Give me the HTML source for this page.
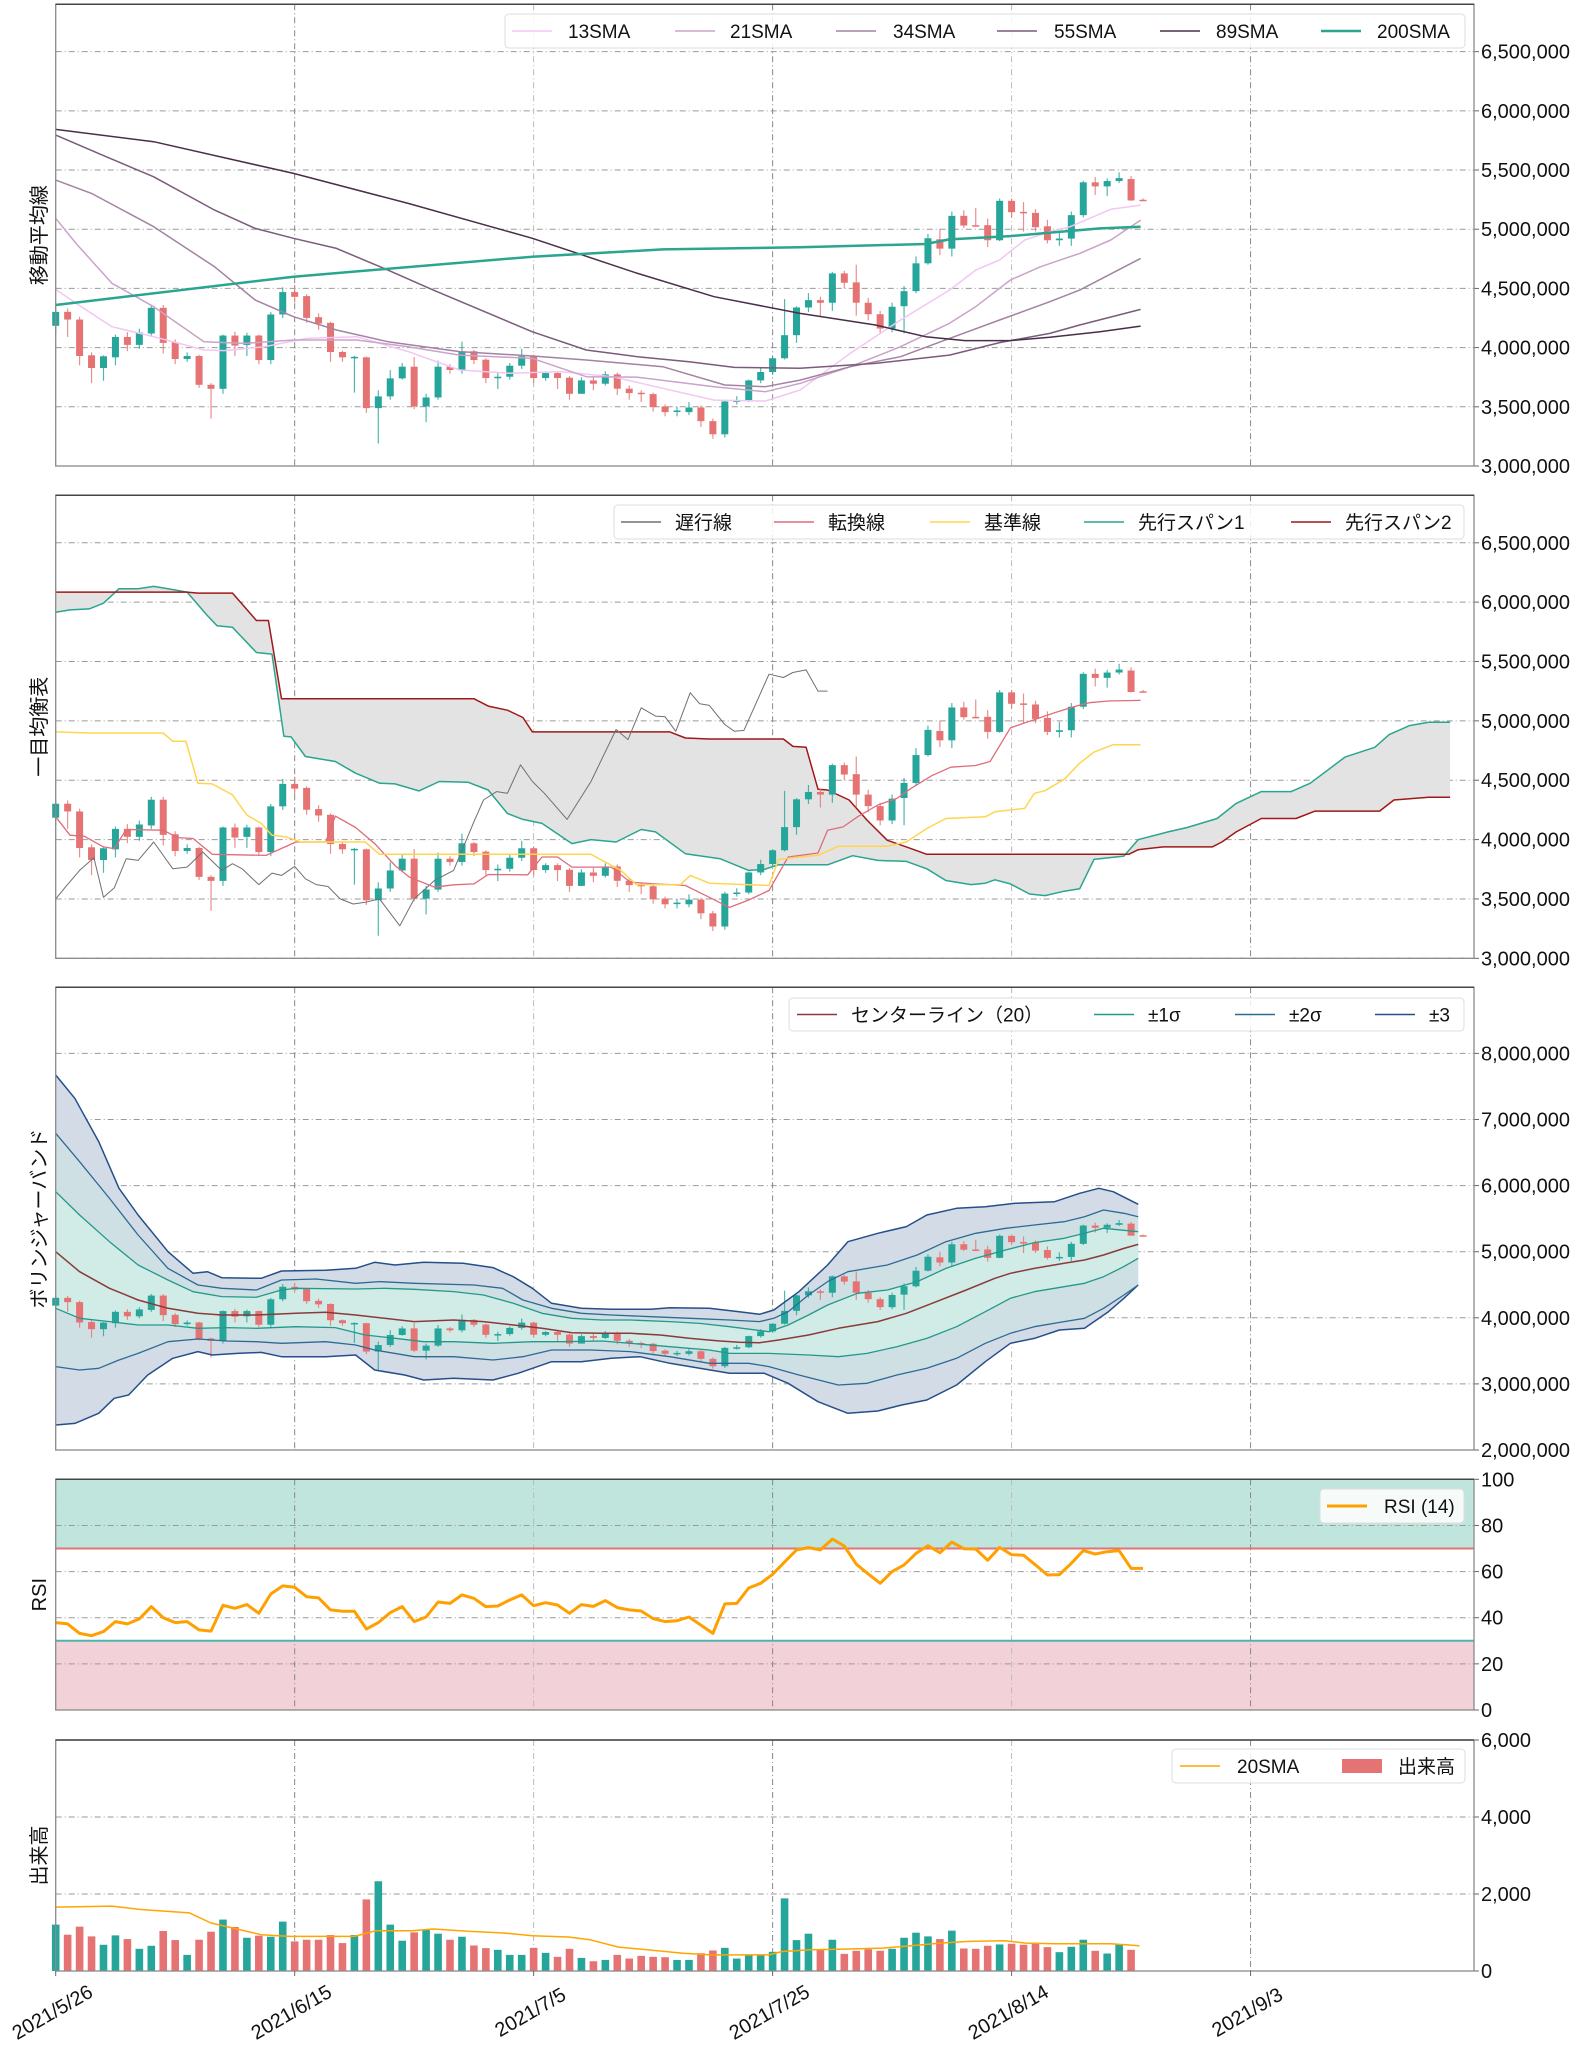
<!DOCTYPE html>
<html><head><meta charset="utf-8"><style>
body{margin:0;background:#fff}
svg{display:block;font-family:"Liberation Sans","Noto Sans CJK JP",sans-serif}
</style></head><body>
<svg id="c" width="1585" height="2048" xmlns="http://www.w3.org/2000/svg"></svg>
<script>
const dateLabels=["2021/5/26","2021/6/15","2021/7/5","2021/7/25","2021/8/14","2021/9/3"];
const openP=[4184,4302,4237,3935,3828,3918,4090,4023,4119,4336,4045,3904,3929,3686,3652,4102,4023,4102,3895,4280,4469,4435,4257,4209,3963,3918,3918,3489,3588,3740,3839,3503,3579,3839,3811,3969,3898,3743,3754,3847,3927,3743,3785,3746,3610,3723,3695,3774,3653,3619,3607,3503,3463,3455,3494,3379,3268,3545,3554,3723,3794,3910,4105,4339,4401,4379,4627,4551,4379,4282,4161,4350,4477,4712,4915,4836,5113,5034,5034,4907,5240,5147,5138,5025,4907,4921,5119,5396,5362,5407,5424,5249];
const closeP=[4302,4237,3929,3828,3927,4090,4023,4127,4336,4040,3904,3929,3686,3652,4102,4017,4102,3895,4280,4469,4429,4251,4203,3963,3918,3922,3489,3588,3740,3839,3503,3579,3839,3811,3969,3895,3743,3754,3847,3927,3743,3785,3743,3610,3723,3695,3774,3653,3616,3607,3497,3455,3469,3494,3379,3268,3545,3554,3723,3794,3910,4105,4339,4401,4379,4627,4548,4379,4282,4161,4345,4477,4712,4924,4836,5113,5031,5031,4907,5240,5144,5136,5017,4907,4921,5119,5396,5362,5407,5432,5243,5243];
const highP=[4330,4330,4260,3960,3935,4110,4130,4160,4360,4360,4070,3960,3940,3700,4110,4135,4125,4110,4300,4510,4530,4450,4290,4220,3975,3930,3925,3640,3810,3870,3920,3610,3890,3860,4050,3980,3910,3790,3870,3990,3940,3800,3800,3760,3750,3760,3800,3790,3680,3640,3620,3520,3500,3540,3510,3400,3560,3590,3730,3830,3920,4410,4350,4460,4430,4640,4650,4700,4420,4310,4380,4520,4770,4960,5000,5150,5160,5180,5090,5260,5260,5230,5170,5080,4990,5150,5410,5440,5430,5480,5450,5260];
const lowP=[4120,4090,3850,3700,3720,3850,3970,3990,4090,3950,3860,3880,3660,3400,3610,3930,3930,3860,3860,4250,4380,4210,4150,3880,3880,3620,3450,3190,3560,3730,3480,3370,3560,3780,3780,3860,3700,3650,3730,3820,3700,3720,3650,3560,3610,3640,3680,3600,3560,3540,3460,3420,3420,3430,3330,3230,3240,3520,3540,3700,3770,3900,4040,4300,4270,4310,4500,4270,4230,4120,4130,4120,4460,4700,4780,4770,5010,5020,4850,4900,5100,4980,4980,4880,4860,4860,5100,5290,5280,5390,5240,5240];
// moving averages [day, value]
const sma13=[[0,4492],[1.7,4374],[4.7,4177],[8.2,4092],[12.4,3980],[14.1,3975],[17.5,4008],[21,4078],[25.2,4092],[29.5,3966],[33.8,3811],[38,3783],[42.3,3797],[46.6,3754],[50.8,3656],[55.1,3557],[59.4,3549],[62.3,3642],[66.5,3952],[70.7,4233],[74.8,4486],[77,4655],[79,4740],[81.1,4909],[83.2,4979],[84.9,5021],[88.3,5168],[90.8,5204]];
const sma21=[[0,5092],[1.7,4880],[4.7,4543],[8.2,4346],[12.4,4050],[15.8,4036],[19.9,4064],[25.2,4064],[29.5,4008],[33.8,3937],[39.9,3909],[44.4,3754],[48.7,3750],[55.1,3670],[59.4,3628],[62.3,3698],[66.5,3839],[70.7,4008],[74.8,4205],[77,4346],[79.9,4571],[82.4,4683],[85.7,4796],[88.3,4909],[90.8,5077]];
const sma34=[[0,5415],[3,5303],[8.2,5021],[13.3,4683],[16.7,4402],[19.9,4261],[23.5,4149],[27.8,4050],[33.8,3966],[39.9,3929],[44.4,3895],[50.8,3839],[56,3684],[59.4,3670],[62.3,3726],[66.5,3839],[70.7,3923],[74.8,4078],[79,4233],[83.2,4388],[85.7,4486],[90.8,4754]];
const sma55=[[0,5795],[3.9,5626],[8.2,5443],[13.3,5162],[16.7,5007],[19.9,4923],[23.5,4838],[27.8,4655],[31.6,4486],[35.9,4303],[39.9,4134],[44.4,3980],[48.7,3923],[53,3881],[56.8,3833],[62.3,3825],[68.6,3867],[74.8,3937],[79,4042],[83.2,4120],[85.7,4191],[90.8,4323]];
const sma89=[[0,5843],[8.2,5739],[19.9,5472],[29.5,5218],[39.9,4923],[48.7,4627],[55.1,4430],[62.3,4289],[68.6,4191],[72.8,4092],[76.1,4059],[79.9,4059],[83.2,4087],[87.4,4134],[90.8,4182]];
const sma200=[[0,4360],[19.9,4599],[39.9,4768],[50.8,4830],[62.3,4847],[72.8,4875],[74.8,4914],[79.9,4942],[84.1,4979],[87.4,5007],[90.8,5021]];
// ichimoku
const span2=[[0,6085],[11,6085],[11.9,6076],[14.8,6076],[16.8,5845],[17.8,5845],[18.9,5187],[35,5187],[36.2,5124],[37.8,5090],[39.1,5028],[39.9,4907],[51.4,4907],[52.7,4856],[54.7,4847],[60.9,4847],[61.7,4785],[62.8,4777],[63.8,4424],[64.6,4418],[66.4,4333],[67.9,4164],[69.6,3994],[71.2,3938],[72.9,3876],[89.8,3876],[90.6,3915],[92.7,3938],[96.8,3938],[97.6,3980],[98.8,4065],[100.9,4178],[103.8,4178],[105.4,4240],[110.8,4240],[112,4333],[113.7,4347],[114.9,4356],[116.7,4356]];
const span1=[[0,5915],[1.2,5935],[2.8,5943],[4,5991],[5.3,6113],[6.9,6113],[8.2,6133],[9.4,6113],[11,6085],[12.7,5887],[13.5,5802],[14.8,5788],[16.8,5576],[18.1,5562],[19.1,4870],[19.7,4865],[20.9,4700],[23.4,4658],[25.1,4559],[27.1,4475],[28.4,4469],[30.4,4410],[32.1,4489],[34.5,4483],[36.2,4418],[37.8,4220],[39.1,4170],[40.7,4136],[43.2,3966],[44.8,4000],[46.9,3980],[49,4085],[50.2,4065],[52.7,3881],[55.6,3839],[58,3740],[59.3,3749],[60.5,3788],[64.6,3788],[66.7,3864],[68.8,3825],[71.2,3816],[72.9,3754],[74.5,3655],[76.6,3621],[77.8,3633],[78.6,3661],[79.9,3627],[81.5,3542],[82.8,3528],[84.4,3565],[85.7,3585],[86.9,3833],[89.4,3861],[90.6,4000],[93.1,4065],[94.7,4102],[97.2,4178],[98.8,4305],[100.9,4404],[103.4,4404],[105,4475],[107.9,4695],[110.4,4777],[111.6,4884],[113.3,4960],[114.9,4989],[116.7,4989]];
const kijun=[[0,4907],[2.8,4898],[9,4898],[9.8,4828],[10.9,4828],[11.9,4475],[13.1,4469],[14.8,4376],[16,4206],[17.2,4136],[18.1,4037],[19.3,4023],[20.5,3980],[25.9,3980],[27.1,3876],[44.8,3876],[47.3,3740],[48.6,3621],[52.3,3621],[53.1,3698],[54.7,3633],[59.7,3613],[60.5,3833],[62.2,3853],[63.8,3867],[65.5,3944],[69.6,3944],[71.2,3980],[72.9,4093],[74.5,4178],[77.8,4192],[78.6,4234],[81.1,4263],[81.9,4390],[82.8,4412],[84.4,4508],[85.7,4644],[86.9,4737],[88.5,4799],[90.8,4799]];
const tenkan=[[0,4192],[1.2,4037],[2.4,4028],[4,3938],[4.9,3924],[5.9,4085],[9,4079],[10.2,4017],[11.5,4009],[13.1,3876],[17.6,3867],[20.1,3980],[22.6,3980],[23.4,4198],[25.1,4102],[26.7,3966],[28.4,3782],[29.6,3684],[31.7,3599],[33.3,3619],[35,3627],[36.2,3706],[39.5,3703],[40.7,3853],[42,3853],[43.2,3768],[46.5,3768],[48.1,3641],[50.2,3627],[52.7,3613],[54.7,3514],[56.4,3429],[58,3491],[59.7,3571],[61.3,3853],[63.8,3887],[64.6,4079],[65.9,4107],[67.1,4192],[68.8,4291],[70.4,4347],[71.6,4432],[73.3,4537],[74.9,4610],[77,4624],[78.2,4658],[79.9,4941],[81.1,4983],[83.6,5068],[85.2,5119],[86.5,5153],[88.1,5167],[90.8,5172]];
const chikou=[[0,3500],[0.8,3599],[2,3740],[3.2,3847],[4,3514],[4.9,3593],[5.9,3839],[6.9,3825],[8.2,3980],[9.8,3754],[11,3768],[12.3,3895],[13.9,3740],[14.8,3797],[15.6,3754],[17,3621],[18.1,3718],[18.9,3698],[20,3774],[20.9,3670],[21.8,3621],[22.8,3605],[23.8,3500],[24.9,3457],[25.9,3472],[27.1,3500],[28.8,3274],[30,3500],[31.7,3655],[33.3,3740],[35,4150],[35.8,4333],[36.9,4404],[37.8,4390],[38.9,4630],[39.9,4489],[40.9,4390],[42.8,4170],[44.8,4489],[46.9,4927],[47.9,4842],[49,5110],[50.2,5040],[51,5034],[51.9,4912],[53.1,5237],[53.9,5144],[54.7,5130],[56,4969],[56.8,4912],[57.6,4920],[59.7,5393],[60.9,5365],[61.7,5407],[62.8,5429],[63.8,5251],[64.6,5251]];
// bollinger
const bbMid=[[0,5000],[2,4698],[4.5,4446],[6.9,4269],[9.4,4143],[11.9,4068],[13.9,4042],[16.8,4042],[20.1,4068],[22.6,4083],[25.1,4042],[27.5,3992],[30,3942],[33.3,3967],[35.8,3942],[38.3,3891],[40.7,3841],[43.2,3775],[45.7,3765],[48.1,3765],[50.6,3740],[53.1,3689],[55.6,3649],[57.2,3629],[58.9,3624],[60.5,3664],[63,3740],[65.5,3841],[68.8,3942],[71.2,4068],[73.7,4244],[76.2,4421],[78.6,4597],[79.9,4673],[81.9,4748],[84.4,4824],[86.1,4874],[87.7,4950],[89.4,5050],[90.6,5111]];
const bbU1=[[0,5908],[2,5555],[4.5,5152],[6.9,4799],[9.4,4572],[11.5,4395],[13.9,4320],[16.8,4310],[18.9,4421],[20.1,4446],[25.1,4436],[27.5,4446],[30,4431],[33.3,4396],[35.8,4345],[38.3,4219],[40.7,4068],[43.2,3992],[45.7,3967],[48.1,3967],[51.4,3942],[53.9,3916],[56.4,3866],[59.7,3790],[61.3,3891],[63,4042],[64.6,4194],[67.1,4370],[69.6,4421],[72.1,4547],[74.5,4748],[77,4900],[79.5,5026],[81.9,5137],[84.4,5202],[86.1,5278],[87.7,5354],[90.6,5303]];
const bbL1=[[0,4143],[2,3992],[4.5,3942],[6.9,3891],[9.4,3891],[11.9,3841],[14.3,3851],[16.8,3841],[20.1,3866],[23.4,3851],[25.9,3740],[28.4,3690],[30.8,3639],[33.3,3639],[36.6,3614],[39.9,3639],[42.4,3639],[45.7,3649],[48.1,3614],[51.4,3563],[54.7,3513],[56.4,3462],[59.7,3462],[63,3437],[65.5,3412],[67.9,3462],[70.4,3563],[72.9,3689],[75.4,3866],[77.8,4093],[79.9,4295],[81.9,4395],[84.4,4471],[86.1,4522],[87.7,4622],[89.4,4774],[90.6,4900]];
const bbU2=[[0,6791],[2,6362],[4.5,5807],[6.9,5253],[9.4,4748],[11.9,4496],[13.9,4446],[16.8,4421],[18.9,4572],[21.8,4587],[25.1,4522],[27.1,4547],[30,4522],[35,4496],[37.4,4446],[39.1,4270],[41.5,4143],[44,4068],[46.5,4042],[49.8,4017],[53.1,3992],[56.4,3967],[58.9,3942],[60.1,3992],[61.3,4093],[63,4345],[64.6,4547],[66.3,4698],[69.6,4799],[72.1,4950],[74.5,5152],[77,5278],[79.5,5354],[81.9,5404],[84.4,5454],[86.1,5530],[87.7,5631],[89.4,5581],[90.6,5530]];
const bbL2=[[0,3261],[2,3210],[3.6,3236],[5.3,3362],[6.9,3462],[9.4,3639],[11.9,3679],[14.3,3649],[16.8,3639],[18.9,3614],[22.6,3639],[25.1,3589],[26.7,3513],[30,3412],[33.3,3412],[36.6,3361],[39.1,3412],[41.5,3513],[44.8,3513],[48.1,3488],[51.4,3412],[54.7,3311],[58,3311],[59.7,3261],[62.2,3135],[65.5,2983],[67.9,3009],[70.4,3135],[72.9,3236],[75.4,3387],[77.8,3614],[79.9,3765],[81.9,3866],[84.4,3942],[86.1,3992],[87.7,4143],[89.4,4345],[90.6,4496]];
const bbU3=[[0,7673],[1.6,7320],[3.6,6665],[5.3,5959],[6.9,5555],[9.4,5000],[11.5,4673],[12.7,4698],[13.9,4607],[17.2,4597],[18.9,4708],[22.6,4718],[25.1,4749],[26.7,4839],[28.4,4799],[30.8,4839],[34.1,4824],[36.6,4759],[38.3,4622],[39.9,4446],[41.5,4219],[44,4143],[46.5,4128],[49.8,4128],[51.4,4153],[54.7,4143],[57.2,4093],[58.9,4053],[60.1,4118],[62.2,4395],[64.6,4799],[66.3,5152],[68.8,5278],[71.2,5379],[72.9,5555],[75.4,5656],[77.8,5681],[80.3,5732],[83.6,5757],[85.7,5883],[87.3,5959],[88.5,5908],[90.6,5717]];
const bbL3=[[0,2378],[1.6,2403],[3.6,2555],[4.9,2782],[6.1,2832],[7.7,3135],[9.8,3387],[11.9,3488],[13.1,3437],[15.2,3462],[17.2,3477],[18.9,3412],[22.6,3412],[25.1,3437],[26.7,3210],[29.2,3135],[30.8,3059],[33.3,3084],[36.6,3059],[38.7,3160],[41.5,3336],[44,3336],[46.5,3387],[48.9,3412],[51.4,3311],[53.9,3236],[56.4,3160],[59.3,3160],[61.3,3009],[63.8,2731],[66.3,2555],[68.8,2590],[70.8,2681],[72.9,2756],[75.4,2983],[77.8,3336],[79.9,3614],[81.9,3689],[84,3815],[86.1,3841],[88.1,4093],[89.4,4295],[90.6,4496]];
const rsiVals=[37.9,37.3,33.2,32.2,34.0,38.3,37.3,39.5,44.8,40.0,37.9,38.3,34.7,34.2,45.4,44.1,45.7,41.9,50.3,53.8,53.2,49.1,48.6,43.4,42.8,42.8,35.1,37.9,42.2,44.8,38.3,40.3,46.8,46.2,49.9,48.4,44.8,45.1,47.7,49.9,45.2,46.5,45.5,41.9,45.7,44.9,47.4,44.4,43.4,42.9,39.6,38.3,38.7,40.3,36.8,33.2,46.0,46.2,52.9,54.9,58.8,64.2,69.4,70.4,69.4,74.1,71.1,63.2,59.0,54.9,60.0,62.9,67.9,71.2,68.2,72.8,69.9,69.8,64.9,70.5,67.3,67.1,62.9,58.5,58.7,63.6,69.1,67.6,68.6,69.1,61.4,61.4];
const volVals=[1205,943,1152,899,681,925,829,576,655,1039,803,419,812,1021,1336,1144,864,917,890,1283,768,812,812,934,725,934,1860,2331,1205,786,1004,1065,969,812,890,663,594,550,419,419,602,471,367,576,340,253,288,419,323,393,367,358,288,288,463,533,602,323,410,410,498,1886,803,969,550,812,445,524,567,524,576,864,995,899,829,1048,585,576,655,690,707,681,707,620,489,629,812,524,454,698,550];
const volUp=[1,0,0,0,1,1,0,1,1,0,0,1,0,0,1,0,1,0,1,1,0,0,0,0,0,1,0,1,1,1,0,1,1,0,1,0,0,1,1,1,0,1,0,0,1,0,1,0,0,0,0,0,1,1,0,0,1,1,1,1,1,1,1,1,0,1,0,0,0,0,1,1,1,1,0,1,0,0,0,1,0,0,0,0,1,1,1,0,1,1,0];
const volSma=[[0,1659],[4.7,1685],[7.1,1598],[11.2,1510],[13,1248],[14.8,1117],[17.2,943],[19.6,899],[25,899],[26.8,1048],[29.8,1048],[31.6,1091],[34.5,1030],[37.5,986],[39.9,917],[42.9,882],[44.7,812],[47.1,620],[49.5,550],[52.5,463],[54.9,419],[59.7,419],[60.8,506],[63.2,550],[65.6,567],[69.2,594],[71.6,655],[74,725],[76.4,768],[79.4,786],[81.2,725],[83.6,707],[88.3,707],[90.7,655]];

const NS='http://www.w3.org/2000/svg';
const svg=document.getElementById('c');
const X0=55.7,X1=1474,DMAX=118.7;
const xs=d=>X0+d/DMAX*(X1-X0);
function mk(tag,attrs,parent){const e=document.createElementNS(NS,tag);for(const k in attrs)e.setAttribute(k,attrs[k]);(parent||svg).appendChild(e);return e;}
const panels=[
 {name:'moving-average-panel',top:4.3,bot:466,min:3000,max:6900,ticks:[3000,3500,4000,4500,5000,5500,6000,6500],fmt:v=>(v*1000).toLocaleString('en-US'),title:'移動平均線'},
 {name:'ichimoku-panel',top:495.3,bot:958.3,min:3000,max:6900,ticks:[3000,3500,4000,4500,5000,5500,6000,6500],fmt:v=>(v*1000).toLocaleString('en-US'),title:'一目均衡表'},
 {name:'bollinger-panel',top:987.3,bot:1450,min:2000,max:9000,ticks:[2000,3000,4000,5000,6000,7000,8000],fmt:v=>(v*1000).toLocaleString('en-US'),title:'ボリンジャーバンド'},
 {name:'rsi-panel',top:1479.3,bot:1710,min:0,max:100,ticks:[0,20,40,60,80,100],fmt:v=>String(v),title:'RSI'},
 {name:'volume-panel',top:1740,bot:1971,min:0,max:6000,ticks:[0,2000,4000,6000],fmt:v=>v.toLocaleString('en-US'),title:'出来高'}];
panels.forEach(p=>{p.y=v=>p.bot-(v-p.min)/(p.max-p.min)*(p.bot-p.top);
 p.g=mk('g',{});});
function path(p,pts,color,w,name){const d=pts.map((q,i)=>(i?'L':'M')+xs(q[0]).toFixed(1)+','+p.y(q[1]).toFixed(1)).join('');
 const e=mk('path',{d:d,fill:'none',stroke:color,'stroke-width':w,'stroke-linejoin':'round'},p.g);
 return e;}
function band(p,a,b,fill,name){const d=a.map((q,i)=>(i?'L':'M')+xs(q[0]).toFixed(1)+','+p.y(q[1]).toFixed(1)).join('')+b.slice().reverse().map(q=>'L'+xs(q[0]).toFixed(1)+','+p.y(q[1]).toFixed(1)).join('')+'Z';
 const e=mk('path',{d:d,fill:fill,stroke:'none'},p.g);}
function frame(p,idx){
 if(idx===3){const r1=mk('rect',{x:X0,y:p.y(100),width:X1-X0,height:p.y(70)-p.y(100),fill:'#c0e5dd'},p.g);
  
  const r2=mk('rect',{x:X0,y:p.y(30),width:X1-X0,height:p.y(0)-p.y(30),fill:'#f3d1d8'},p.g);
  }
 p.ticks.forEach(t=>{const yy=p.y(t);
  const gl=mk('line',{x1:X0,x2:X1,y1:yy,y2:yy,stroke:'#9a9a9a','stroke-width':1,'stroke-dasharray':'6,3,1,3'},p.g);
  
  const tk=mk('line',{x1:X1,x2:X1+5,y1:yy,y2:yy,stroke:'#666'},p.g);
  
  const tx=mk('text',{x:X1+7,y:yy+7,'font-size':20,fill:'#111'},p.g);tx.textContent=p.fmt(t);
  });
 dateLabels.forEach((s,i)=>{const xx=xs(i*20);
  const gl=mk('line',{x1:xx,x2:xx,y1:p.top,y2:p.bot,stroke:i%2? '#888':'#bbb','stroke-width':1,'stroke-dasharray':'6,3,1,3'},p.g);
  });
 const t=mk('text',{x:0,y:0,'font-size':20,fill:'#111','text-anchor':'middle',transform:`translate(46,${(p.top+p.bot)/2}) rotate(-90)`},p.g);
 t.textContent=p.title;
}
function border(p){const r=mk('rect',{x:X0,y:p.top,width:X1-X0,height:p.bot-p.top,fill:'none',stroke:'#8a8a8a','stroke-width':1.3},p.g);
 
 const tl=mk('line',{x1:X0,x2:X1,y1:p.top,y2:p.top,stroke:'#444','stroke-width':1.5},p.g);
 }
function candles(p){const n=Math.min(openP.length,closeP.length,highP.length,lowP.length);
 for(let i=0;i<n;i++){const up=closeP[i]>=openP[i];const col=up?'#26a69a':'#e57373';const xx=xs(i);
  const w=mk('line',{x1:xx,x2:xx,y1:p.y(highP[i]),y2:p.y(lowP[i]),stroke:col,'stroke-width':1.2,opacity:0.8},p.g);
  
  const t=p.y(Math.max(openP[i],closeP[i])),b=p.y(Math.min(openP[i],closeP[i]));
  const r=mk('rect',{x:xx-3.5,y:t,width:7,height:Math.max(1.5,b-t),fill:col},p.g);
  }}
function legend(p,x1,y1,x2,y2,items){const r=mk('rect',{x:x1,y:y1,width:x2-x1,height:y2-y1,rx:4,fill:'#fff','fill-opacity':0.85,stroke:'#ddd'},p.g);
 const cy=(y1+y2)/2;
 items.forEach(it=>{if(it.patch){const pr=mk('rect',{x:it.lx,y:cy-7,width:40,height:14,fill:it.c},p.g);}
  else{const l=mk('line',{x1:it.lx,x2:it.lx+40,y1:cy,y2:cy,stroke:it.c,'stroke-width':it.w||1.5},p.g);}
  const t=mk('text',{x:it.tx,y:cy+7,'font-size':19,fill:'#111'},p.g);t.textContent=it.t;});}

// Panel 1
let P=panels[0];frame(P,0);
candles(P);
path(P,sma13,'#f3c6f3',1.5,'sma13-line');path(P,sma21,'#c9a3c9',1.5,'sma21-line');path(P,sma34,'#a283a2',1.5,'sma34-line');
path(P,sma55,'#7b5a7b',1.5,'sma55-line');path(P,sma89,'#4a2e48',1.5,'sma89-line');path(P,sma200,'#2aa58e',2.5,'sma200-line');
border(P);
legend(P,505,14,1465,48,[{lx:512,tx:568,c:'#f3c6f3',t:'13SMA'},{lx:675,tx:730,c:'#c9a3c9',t:'21SMA'},{lx:836,tx:893,c:'#a283a2',t:'34SMA'},{lx:997,tx:1054,c:'#7b5a7b',t:'55SMA'},{lx:1160,tx:1216,c:'#4a2e48',t:'89SMA'},{lx:1321,tx:1377,c:'#2aa58e',t:'200SMA',w:2.5}]);
// Panel 2
P=panels[1];frame(P,1);
band(P,span1,span2,'#e3e3e3','kumo-cloud');
path(P,span1,'#2aa58e',1.5,'senkou-span1-line');path(P,span2,'#a01818',1.5,'senkou-span2-line');
candles(P);
path(P,chikou,'#707070',1,'chikou-line');path(P,tenkan,'#e06c7a',1.3,'tenkan-line');path(P,kijun,'#ffd54f',1.5,'kijun-line');
border(P);
legend(P,614,505,1464,539,[{lx:621,tx:675,c:'#707070',t:'遅行線'},{lx:774,tx:828,c:'#e06c7a',t:'転換線'},{lx:930,tx:984,c:'#ffd54f',t:'基準線'},{lx:1084,tx:1138,c:'#2aa58e',t:'先行スパン1'},{lx:1291,tx:1345,c:'#a01818',t:'先行スパン2'}]);
// Panel 3
P=panels[2];frame(P,2);
band(P,bbU3,bbL3,'#d3dbe6','bb-3sigma-fill');band(P,bbU2,bbL2,'#cfe0e4','bb-2sigma-fill');band(P,bbU1,bbL1,'#d1ebe7','bb-1sigma-fill');
candles(P);
path(P,bbU3,'#254f88',1.5,'bb-upper3-line');path(P,bbL3,'#254f88',1.5,'bb-lower3-line');
path(P,bbU2,'#2d6a94',1.3,'bb-upper2-line');path(P,bbL2,'#2d6a94',1.3,'bb-lower2-line');
path(P,bbU1,'#22998a',1.3,'bb-upper1-line');path(P,bbL1,'#22998a',1.3,'bb-lower1-line');
path(P,bbMid,'#8b3a3a',1.5,'bb-center-line');
border(P);
legend(P,789,998,1464,1031,[{lx:797,tx:851,c:'#8b3a3a',t:'センターライン（20）'},{lx:1094,tx:1148,c:'#22998a',t:'±1σ'},{lx:1235,tx:1289,c:'#2d6a94',t:'±2σ'},{lx:1375,tx:1429,c:'#254f88',t:'±3'}]);
// Panel 4
P=panels[3];frame(P,3);
[[70,'#e57373'],[30,'#4db6ac']].forEach(a=>{const l=mk('line',{x1:X0,x2:X1,y1:P.y(a[0]),y2:P.y(a[0]),stroke:a[1],'stroke-width':2},P.g);});
path(P,rsiVals.map((v,i)=>[i,v]),'#ffa000',3,'rsi-line');
border(P);
legend(P,1320,1489,1464,1523,[{lx:1327,tx:1384,c:'#ffa000',t:'RSI (14)',w:3}]);
// Panel 5
P=panels[4];frame(P,4);
volVals.forEach((v,i)=>{const r=mk('rect',{x:xs(i)-3.8,y:P.y(v),width:7.6,height:P.y(0)-P.y(v),fill:volUp[i]?'#26a69a':'#e57373'},P.g);
 });
path(P,volSma,'#ffa500',1.5,'volume-sma-line');
border(P);
legend(P,1172,1749,1465,1783,[{lx:1180,tx:1237,c:'#ffa500',t:'20SMA',w:1.5},{lx:1342,tx:1398,c:'#e57373',t:'出来高',patch:true}]);
dateLabels.forEach((s,i)=>{const xx=xs(i*20);
 const tk=mk('line',{x1:xx,x2:xx,y1:1971,y2:1976,stroke:'#666'});
 const t=mk('text',{x:0,y:0,'font-size':20,fill:'#111','text-anchor':'middle',transform:`translate(${xx},${2018}) rotate(-30)`});
 t.textContent=s;});
</script>
</body></html>
